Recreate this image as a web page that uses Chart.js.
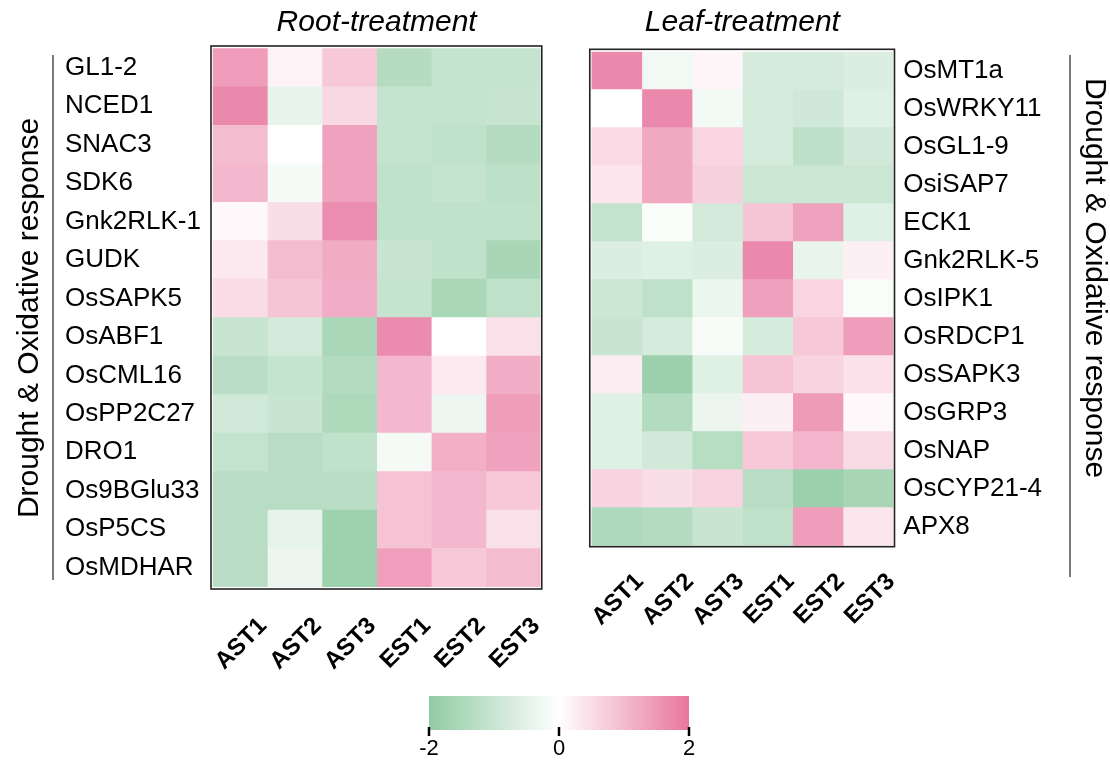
<!DOCTYPE html>
<html>
<head>
<meta charset="utf-8">
<script src="https://cdn.jsdelivr.net/npm/chart.js@4.4.1/dist/chart.umd.min.js"></script>
<style>
  html, body { margin: 0; padding: 0; background: #ffffff; }
  body { width: 1110px; height: 762px; position: relative; overflow: hidden; }
  canvas { position: absolute; }
  #leftWrap { position: absolute; left: 0; top: 0; width: 560px; height: 700px; }
  #rightWrap { position: absolute; left: 550px; top: 0; width: 560px; height: 700px; }
  #barWrap { position: absolute; left: 380px; top: 670px; width: 360px; height: 92px; }
</style>
</head>
<body>
<div id="leftWrap"><canvas id="rootChart"></canvas></div>
<div id="rightWrap"><canvas id="leafChart"></canvas></div>
<div id="barWrap"><canvas id="scaleBar"></canvas></div>
<script>
// ---------- DATA ----------
const sampleLabels = ['AST1', 'AST2', 'AST3', 'EST1', 'EST2', 'EST3'];

const rootGenes = ['GL1-2', 'NCED1', 'SNAC3', 'SDK6', 'Gnk2RLK-1', 'GUDK', 'OsSAPK5',
  'OsABF1', 'OsCML16', 'OsPP2C27', 'DRO1', 'Os9BGlu33', 'OsP5CS', 'OsMDHAR'];
const rootAST1 = [1.43, 1.72, 0.98, 1.04, 0.10, 0.32, 0.51, -1.00, -1.27, -0.85, -1.09, -1.29, -1.29, -1.29];
const rootAST2 = [0.19, -0.44, 0.00, -0.15, 0.50, 0.98, 0.85, -0.80, -1.05, -1.00, -1.29, -1.29, -0.45, -0.35];
const rootAST3 = [0.80, 0.57, 1.36, 1.36, 1.65, 1.21, 1.20, -1.55, -1.38, -1.47, -1.15, -1.29, -1.76, -1.76];
const rootEST1 = [-1.35, -1.05, -1.05, -1.15, -1.15, -1.00, -1.05, 1.70, 1.04, 1.04, -0.18, 0.88, 0.88, 1.40];
const rootEST2 = [-1.05, -1.05, -1.15, -1.05, -1.15, -1.15, -1.53, 0.00, 0.30, -0.33, 1.15, 1.04, 1.04, 0.80];
const rootEST3 = [-1.05, -1.00, -1.35, -1.20, -1.15, -1.56, -1.16, 0.45, 1.19, 1.42, 1.36, 0.80, 0.45, 0.98];

const leafGenes = ['OsMT1a', 'OsWRKY11', 'OsGL1-9', 'OsiSAP7', 'ECK1', 'Gnk2RLK-5', 'OsIPK1',
  'OsRDCP1', 'OsSAPK3', 'OsGRP3', 'OsNAP', 'OsCYP21-4', 'APX8'];
const leafAST1 = [1.72, 0.00, 0.54, 0.36, -1.09, -0.65, -0.91, -1.00, 0.26, -0.58, -0.58, 0.64, -1.45];
const leafAST2 = [-0.25, 1.72, 1.26, 1.26, -0.10, -0.58, -1.16, -0.76, -1.80, -1.40, -0.84, 0.50, -1.40];
const leafAST3 = [0.15, -0.22, 0.61, 0.69, -0.80, -0.65, -0.36, -0.13, -0.58, -0.35, -1.31, 0.64, -1.00];
const leafEST1 = [-0.76, -0.76, -0.76, -0.95, 0.85, 1.72, 1.39, -0.76, 0.85, 0.22, 0.80, -1.29, -1.16];
const leafEST2 = [-0.76, -0.87, -1.18, -0.95, 1.36, -0.42, 0.61, 0.80, 0.64, 1.46, 1.08, -1.80, 1.43];
const leafEST3 = [-0.65, -0.58, -0.84, -0.95, -0.58, 0.22, -0.10, 1.43, 0.44, 0.10, 0.53, -1.56, 0.36];

const scaleRange = [-2, 2];
const scaleTicks = [-2, 0, 2];
const groupTitle = 'Drought & Oxidative response';

// ---------- STYLE ----------
const FONT = '"Liberation Sans", Arial, Helvetica, sans-serif';
const LOW = [145, 203, 163];
const HIGH = [232, 118, 158];
function heatColor(v) {
  const t = Math.min(1, Math.abs(v) / 2);
  const c = v < 0 ? LOW : HIGH;
  const r = Math.round(255 + (c[0] - 255) * t);
  const g = Math.round(255 + (c[1] - 255) * t);
  const b = Math.round(255 + (c[2] - 255) * t);
  return `rgb(${r},${g},${b})`;
}

// decoration plugin: panel frame, title, group bracket + label
const decoPlugin = {
  id: 'deco',
  afterDraw(chart, args, opts) {
    const { ctx, chartArea: a } = chart;
    ctx.save();
    ctx.strokeStyle = '#222';
    ctx.lineWidth = 1.6;
    ctx.strokeRect(a.left - opts.frame[0], a.top - opts.frame[1],
      (a.right - a.left) + opts.frame[0] + opts.frame[2],
      (a.bottom - a.top) + opts.frame[1] + opts.frame[3]);
    ctx.fillStyle = '#000';
    ctx.font = 'italic 30px ' + FONT;
    ctx.textAlign = 'center';
    ctx.textBaseline = 'middle';
    ctx.fillText(opts.title, (a.left + a.right) / 2, opts.titleY);
    ctx.strokeStyle = '#333';
    ctx.lineWidth = 1.3;
    ctx.beginPath();
    ctx.moveTo(opts.lineX, opts.lineY0);
    ctx.lineTo(opts.lineX, opts.lineY1);
    ctx.stroke();
    ctx.translate(opts.textX, opts.textY);
    ctx.rotate(opts.textRot);
    ctx.font = '30px ' + FONT;
    ctx.fillText(groupTitle, 0, 0);
    ctx.restore();
  }
};

// small tick marks overlapping the colour bar's lower edge
const barTickPlugin = {
  id: 'barTicks',
  afterDraw(chart) {
    const { ctx, chartArea: a } = chart;
    const xs = chart.scales.x;
    ctx.save();
    ctx.strokeStyle = '#000';
    ctx.lineWidth = 2.5;
    scaleTicks.forEach(v => {
      const px = xs.getPixelForValue(v);
      ctx.beginPath();
      ctx.moveTo(px, a.bottom - 3);
      ctx.lineTo(px, a.bottom + 6);
      ctx.stroke();
    });
    ctx.restore();
  }
};

function heatDatasets(columns) {
  return columns.map((vals, c) => ({
    label: sampleLabels[c],
    data: vals.map(() => [c, c + 1]),
    backgroundColor: vals.map(heatColor),
    borderColor: vals.map(heatColor),
    borderWidth: 0,
    barPercentage: 1,
    categoryPercentage: 1,
    grouped: false
  }));
}

function heatOptions(cfg) {
  return {
    indexAxis: 'y',
    responsive: true,
    maintainAspectRatio: false,
    animation: false,
    events: [],
    layout: { padding: cfg.padding },
    plugins: {
      legend: { display: false },
      tooltip: { enabled: false },
      title: { display: false },
      deco: cfg.deco
    },
    scales: {
      x: {
        type: 'linear',
        min: 0,
        max: sampleLabels.length,
        grid: { display: false, drawTicks: false },
        border: { display: false },
        afterBuildTicks: (scale) => {
          scale.ticks = sampleLabels.map((_, i) => ({ value: i + 0.5 }));
        },
        afterFit: (scale) => { scale.height = cfg.xHeight; },
        ticks: {
          autoSkip: false,
          minRotation: 45,
          maxRotation: 45,
          padding: cfg.xPad,
          labelOffset: cfg.xOffset,
          color: '#000',
          font: { family: FONT, size: 24, weight: 'bold' },
          callback: (v, i) => sampleLabels[i]
        }
      },
      y: {
        type: 'category',
        position: cfg.yPos,
        grid: { display: false, drawTicks: false },
        border: { display: false },
        afterFit: (scale) => { scale.width = cfg.yWidth; },
        ticks: {
          autoSkip: false,
          crossAlign: cfg.yAlign,
          padding: cfg.yPad,
          color: '#000',
          font: { family: FONT, size: 26 }
        }
      }
    }
  };
}

// ---------- ROOT PANEL ----------
new Chart(document.getElementById('rootChart'), {
  type: 'bar',
  data: {
    labels: rootGenes,
    datasets: heatDatasets([rootAST1, rootAST2, rootAST3, rootEST1, rootEST2, rootEST3])
  },
  options: heatOptions({
    padding: { left: 65, top: 48.3, right: 16.7, bottom: 13 },
    xHeight: 100, xPad: 25, xOffset: 23,
    yPos: 'left', yWidth: 147.7, yAlign: 'far', yPad: 10,
    deco: {
      title: 'Root-treatment', titleY: 23,
      frame: [1.7, 2.3, 1.2, 2],
      lineX: 53, lineY0: 55, lineY1: 580,
      textX: 30, textY: 318, textRot: -Math.PI / 2
    }
  }),
  plugins: [decoPlugin]
});

// ---------- LEAF PANEL ----------
new Chart(document.getElementById('leafChart'), {
  type: 'bar',
  data: {
    labels: leafGenes,
    datasets: heatDatasets([leafAST1, leafAST2, leafAST3, leafEST1, leafEST2, leafEST3])
  },
  options: heatOptions({
    padding: { left: 15, top: 51.7, right: 0, bottom: 54.3 },
    xHeight: 100, xPad: 22, xOffset: 23,
    yPos: 'right', yWidth: 216.7, yAlign: 'near', yPad: 10,
    deco: {
      title: 'Leaf-treatment', titleY: 23,
      frame: [1.7, 2.4, 1.2, 1],
      lineX: 520, lineY0: 55, lineY1: 577,
      textX: 544, textY: 278, textRot: Math.PI / 2
    }
  }),
  plugins: [decoPlugin]
});

// ---------- COLOUR SCALE ----------
new Chart(document.getElementById('scaleBar'), {
  type: 'bar',
  data: {
    labels: ['scale'],
    datasets: [{
      data: [scaleRange],
      backgroundColor: (ctx) => {
        const chart = ctx.chart;
        const a = chart.chartArea;
        if (!a) return 'rgba(0,0,0,0)';
        const xs = chart.scales.x;
        const g = chart.ctx.createLinearGradient(xs.getPixelForValue(scaleRange[0]), 0,
          xs.getPixelForValue(scaleRange[1]), 0);
        g.addColorStop(0, heatColor(scaleRange[0]));
        g.addColorStop(0.5, heatColor(0));
        g.addColorStop(1, heatColor(scaleRange[1]));
        return g;
      },
      borderWidth: 0,
      barPercentage: 1,
      categoryPercentage: 1
    }]
  },
  options: {
    indexAxis: 'y',
    responsive: true,
    maintainAspectRatio: false,
    animation: false,
    events: [],
    layout: { padding: { left: 49, right: 51, top: 26, bottom: 0 } },
    plugins: { legend: { display: false }, tooltip: { enabled: false } },
    scales: {
      x: {
        type: 'linear',
        min: scaleRange[0],
        max: scaleRange[1],
        afterBuildTicks: (scale) => { scale.ticks = scaleTicks.map(v => ({ value: v })); },
        afterFit: (scale) => { scale.height = 32; },
        grid: { display: false, drawTicks: false },
        border: { display: false },
        ticks: {
          padding: 6,
          color: '#000',
          font: { family: FONT, size: 22 }
        }
      },
      y: { display: false }
    }
  },
  plugins: [barTickPlugin]
});
</script>
</body>
</html>
